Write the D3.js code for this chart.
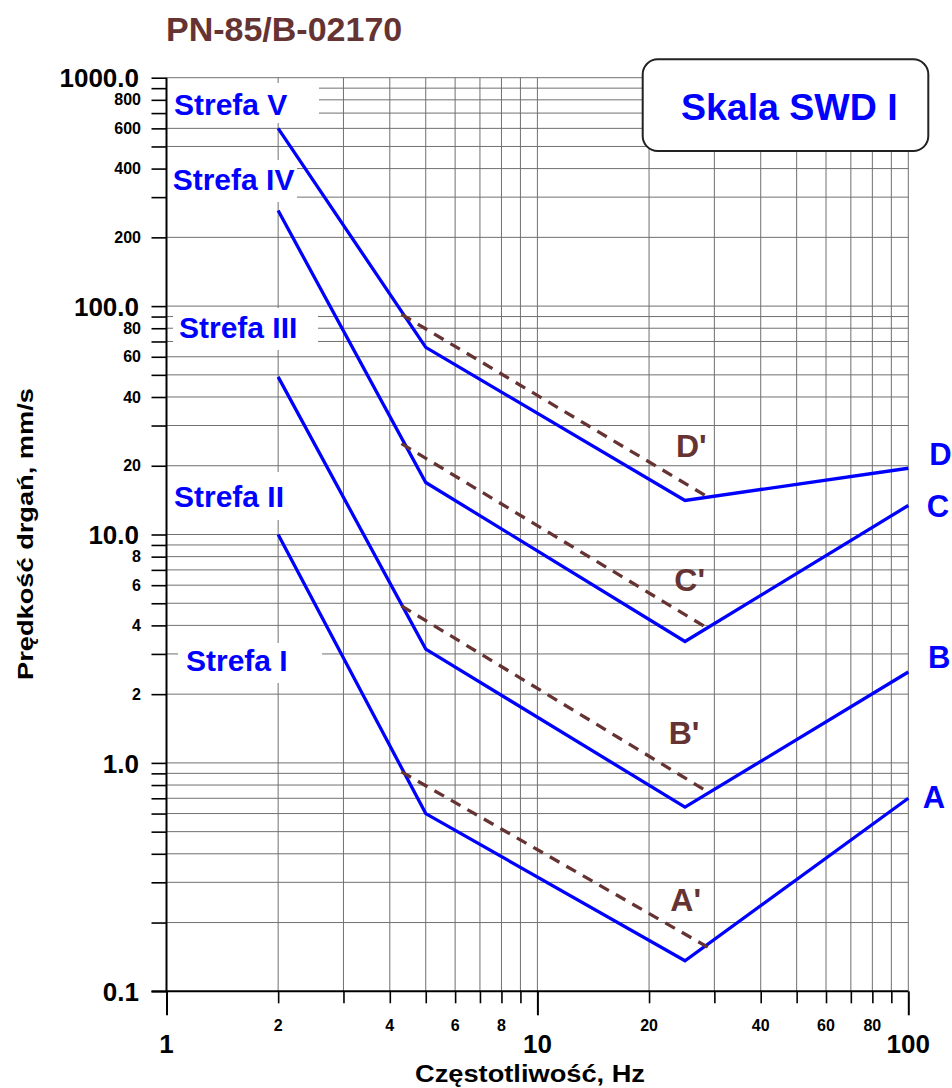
<!DOCTYPE html>
<html>
<head>
<meta charset="utf-8">
<script src="https://cdn.jsdelivr.net/npm/d3@7"></script>
<style>
  html, body { margin: 0; padding: 0; background: #fff; }
  svg text { font-family: "Liberation Sans", Arial, sans-serif; font-weight: bold; }
</style>
</head>
<body>
<svg id="chart" width="952" height="1088"></svg>
<script>
// ---- data ----
const freqBreaks = [2, 5, 25, 100];
const curveA = [10, 0.6, 0.136, 0.7];
const curveB = [49, 3.15, 0.64, 2.5];
const curveC = [262, 16.9, 3.4, 13.4];
const curveD = [600, 66, 14.1, 19.5];
const curveNames = ["A", "B", "C", "D"];

const dashFreq = [4.3, 28.8];
const dashA = [0.914, 0.156];
const dashB = [4.87, 0.747];
const dashC = [25, 3.88];
const dashD = [92, 14.6];
const dashNames = ["A'", "B'", "C'", "D'"];

const zoneNames = ["Strefa V", "Strefa IV", "Strefa III", "Strefa II", "Strefa I"];

const xMajorTicks = [1, 10, 100];
const xMinorLabels = [2, 4, 6, 8, 20, 40, 60, 80];
const yMajorTicks = [1000, 100, 10, 1, 0.1];
const yMajorLabels = ["1000.0", "100.0", "10.0", "1.0", "0.1"];
const yMinorLabels = [800, 600, 400, 200, 80, 60, 40, 20, 8, 6, 4, 2];

const title = "PN-85/B-02170";
const scaleName = "Skala SWD I";
const xTitle = "Częstotliwość, Hz";
const yTitle = "Prędkość drgań, mm/s";

// ---- layout ----
const svg = d3.select("#chart");
const x = d3.scaleLog().domain([1, 100]).range([166.5, 908.3]);
const y = d3.scaleLog().domain([0.1, 1000]).range([991.3, 77.7]);

const blue = "#0000ff";
const brown = "#663333";
const gridColor = "#707070";

// all 1..9 x decade values
function decadeValues(lo, hi) {
  const out = [];
  for (let d = lo; d < hi; d *= 10) {
    for (let k = 1; k <= 9; k++) out.push(+(k * d).toPrecision(3));
  }
  out.push(hi);
  return out;
}
const xAll = decadeValues(1, 100);
const yAll = decadeValues(0.1, 1000);

// grid
const grid = svg.append("g");
grid.selectAll("line.v").data(xAll.filter(v => v > 1)).enter().append("line")
  .attr("x1", d => x(d)).attr("x2", d => x(d))
  .attr("y1", y(1000)).attr("y2", y(0.1))
  .attr("stroke", gridColor).attr("stroke-width", 1);
grid.selectAll("line.h").data(yAll.filter(v => v > 0.1)).enter().append("line")
  .attr("x1", x(1)).attr("x2", x(100))
  .attr("y1", d => y(d)).attr("y2", d => y(d))
  .attr("stroke", gridColor).attr("stroke-width", 1);

// white label backgrounds for zone names
const zoneBoxes = [
  [167, 83, 152, 40],
  [167, 160, 130, 42],
  [173, 308, 145, 42],
  [170, 472, 120, 48],
  [178, 643, 144, 40]
];
const zonePos = [[174, 115], [172.7, 190], [179, 338], [174, 506.7], [186, 670.7]];
svg.append("g").selectAll("rect").data(zoneBoxes).enter().append("rect")
  .attr("x", d => d[0]).attr("y", d => d[1]).attr("width", d => d[2]).attr("height", d => d[3])
  .attr("fill", "#fff");

// axes
const yAxis = d3.axisLeft(y).tickValues(yAll).tickSize(15).tickFormat("");
svg.append("g").attr("transform", `translate(${x(1)},0)`).call(yAxis)
  .call(g => g.select(".domain").attr("stroke-width", 2).attr("d", `M0,${y(1000)}V${y(0.1)}`))
  .call(g => g.selectAll(".tick line").attr("stroke-width", 1.6));

const xAxisMinor = d3.axisBottom(x).tickValues(xAll.filter(v => !xMajorTicks.includes(v))).tickSize(12).tickFormat("");
svg.append("g").attr("transform", `translate(0,${y(0.1)})`).call(xAxisMinor)
  .call(g => g.select(".domain").attr("stroke-width", 2).attr("d", `M${x(1) - 15},0H${x(100)}`))
  .call(g => g.selectAll(".tick line").attr("stroke-width", 1.6));
const xAxisMajor = d3.axisBottom(x).tickValues(xMajorTicks).tickSize(24).tickFormat("");
svg.append("g").attr("transform", `translate(0,${y(0.1)})`).call(xAxisMajor)
  .call(g => g.select(".domain").remove())
  .call(g => g.selectAll(".tick line").attr("stroke-width", 2));

// y tick labels
svg.append("g").selectAll("text").data(yMajorTicks).enter().append("text")
  .attr("x", 139).attr("y", d => y(d)).attr("dy", "0.37em")
  .attr("text-anchor", "end").attr("font-size", 26).attr("fill", "#000")
  .text((d, i) => yMajorLabels[i]);
svg.append("g").selectAll("text").data(yMinorLabels).enter().append("text")
  .attr("x", 141).attr("y", d => y(d)).attr("dy", "0.35em")
  .attr("text-anchor", "end").attr("font-size", 16).attr("fill", "#000")
  .text(d => d);

// x tick labels
svg.append("g").selectAll("text").data(xMinorLabels).enter().append("text")
  .attr("x", d => x(d)).attr("y", 1030.7)
  .attr("text-anchor", "middle").attr("font-size", 16).attr("fill", "#000")
  .text(d => d);
svg.append("g").selectAll("text").data(xMajorTicks).enter().append("text")
  .attr("x", d => x(d)).attr("y", 1053)
  .attr("text-anchor", "middle").attr("font-size", 26).attr("fill", "#000")
  .text(d => d);

// axis titles
svg.append("text").attr("x", 415).attr("y", 1081.7)
  .attr("font-size", 23).attr("fill", "#000")
  .attr("textLength", 230).attr("lengthAdjust", "spacingAndGlyphs")
  .text(xTitle);
svg.append("text")
  .attr("transform", "translate(33.3,680) rotate(-90)")
  .attr("font-size", 22).attr("fill", "#000")
  .attr("textLength", 292).attr("lengthAdjust", "spacingAndGlyphs")
  .text(yTitle);

// curves
const line = d3.line().x(d => x(d[0])).y(d => y(d[1]));
const curves = [curveA, curveB, curveC, curveD];
svg.append("g").selectAll("path").data(curves).enter().append("path")
  .attr("d", c => line(c.map((v, i) => [freqBreaks[i], v])))
  .attr("fill", "none").attr("stroke", blue).attr("stroke-width", 3.3)
  .attr("stroke-linejoin", "miter");

const dashes = [dashA, dashB, dashC, dashD];
svg.append("g").selectAll("path").data(dashes).enter().append("path")
  .attr("d", c => line(c.map((v, i) => [dashFreq[i], v])))
  .attr("fill", "none").attr("stroke", brown).attr("stroke-width", 3.3)
  .attr("stroke-dasharray", "11,8");

// curve end labels
const endLabelPos = [[922.7, 808.3], [928, 668.3], [926.7, 516.7], [929.3, 465]];
svg.append("g").selectAll("text").data(curveNames).enter().append("text")
  .attr("x", (d, i) => endLabelPos[i][0]).attr("y", (d, i) => endLabelPos[i][1])
  .attr("font-size", 31).attr("fill", blue).text(d => d);

const dashLabelPos = [[670.3, 910.7], [668.7, 744], [674.3, 591], [676, 456.7]];
svg.append("g").selectAll("text").data(dashNames).enter().append("text")
  .attr("x", (d, i) => dashLabelPos[i][0]).attr("y", (d, i) => dashLabelPos[i][1])
  .attr("font-size", 32).attr("fill", brown).text(d => d);

// zone labels
svg.append("g").selectAll("text").data(zoneNames).enter().append("text")
  .attr("x", (d, i) => zonePos[i][0]).attr("y", (d, i) => zonePos[i][1])
  .attr("font-size", 30).attr("fill", blue).text(d => d);

// title
svg.append("text").attr("x", 166).attr("y", 40.7)
  .attr("font-size", 34).attr("fill", brown).text(title);

// scale box
svg.append("rect").attr("x", 642.7).attr("y", 59.3).attr("width", 285.6).attr("height", 91.7)
  .attr("rx", 15).attr("ry", 15)
  .attr("fill", "#fff").attr("stroke", "#222").attr("stroke-width", 2);
svg.append("text").attr("x", 789.3).attr("y", 120)
  .attr("text-anchor", "middle").attr("font-size", 37.5).attr("fill", blue)
  .text(scaleName);
</script>
</body>
</html>
